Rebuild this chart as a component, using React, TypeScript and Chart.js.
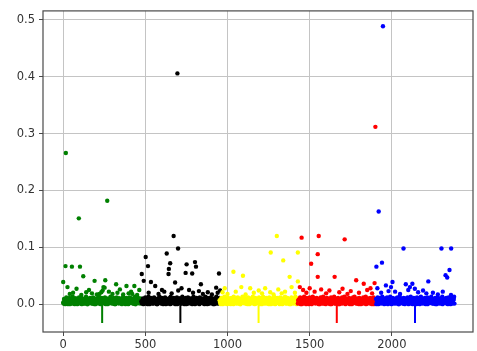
import { useEffect, useRef } from "react";
import { Chart, registerables } from "chart.js";

Chart.register(...registerables);

// ---- data ----
const groupColors = ["#008000", "#000000", "#ffff00", "#ff0000", "#0000ff"];
const groupStarts = [0, 476, 952, 1428, 1904];
const groupWidth = 475;
const stemCenters = [237, 713, 1189, 1665, 2141];
const stemBottom = -0.033;
const xTickValues = [0, 500, 1000, 1500, 2000];
const yTickValues = [0, 0.1, 0.2, 0.3, 0.4, 0.5];

// dense band values near zero (thousandths), one per sampled index
const greenBandMilli = [3,9,1,6,12,4,0,8,11,2,7,5,13,1,9,3,10,6,0,8,12,2,5,11,4,7,1,10,3,13,6,0,9,2,11,5,8,1,12,4,7,0,10,3,6,13,2,9,5,11,1,8,4,12,0,7,3,10,6,2,13,9,1,5,11,8,0,4,12,7,3,10,2,6,9,1,13,5,8,0,11,4,7,2,12,6,10,3,9,1,5,13,0,8,4,11,2,7,10,3];
const blackBandMilli = [5,1,10,7,2,12,4,9,0,13,6,3,11,8,1,5,12,2,9,6,0,10,4,13,7,3,11,1,8,5,12,0,9,2,6,10,4,13,1,7,3,11,8,0,5,12,2,9,6,10,1,4,13,7,3,8,11,0,5,12,2,9,6,1,10,4,13,7,0,3,11,8,5,1,12,2,9,6,10,4,0,13,7,3,11,1,8,5,12,2,9,0,6,10,4,13,3,7,1,11];
const yellowBandMilli = [7,2,11,4,0,9,13,5,1,8,12,3,10,6,0,11,2,7,13,4,9,1,6,12,3,10,0,8,5,13,2,11,7,1,9,4,12,6,0,10,3,8,13,2,5,11,1,9,7,4,12,0,6,10,3,13,8,1,5,11,2,9,4,12,7,0,10,6,3,13,1,8,5,11,2,9,0,12,4,7,10,3,6,13,1,8,11,5,2,9,0,12,4,7,10,3,13,6,1,8];
const redBandMilli = [1,8,4,12,6,0,10,3,13,7,2,11,5,9,0,12,4,8,1,13,6,10,3,7,11,2,9,5,0,12,8,4,13,1,6,10,3,11,7,2,9,0,12,5,8,4,13,1,10,6,3,11,7,0,9,2,12,5,8,13,4,1,10,6,3,11,0,7,9,2,12,5,13,8,1,4,10,6,11,3,0,9,7,12,2,5,13,8,1,10,4,6,11,3,0,9,12,7,2,5];
const blueBandMilli = [9,3,12,0,6,11,2,8,13,5,1,10,4,7,12,0,9,3,13,6,2,11,8,1,5,10,4,12,7,0,13,3,9,6,1,11,8,2,10,5,12,0,7,4,13,9,1,6,11,3,8,0,12,5,10,2,7,13,4,1,9,6,11,0,3,12,8,5,10,2,13,7,1,4,9,11,6,0,12,3,8,5,10,1,13,7,2,9,4,11,6,0,12,3,8,5,10,1,7,13];

// second interleaved row of band values (thousandths)
const greenBandMilliB = [1,5,0,3,7,2,9,4,0,6,1,8,3,5,0,10,2,6,4,1,7,3,9,0,5,2,8,1,4,6,0,9,3,7,2,5,1,10,4,0,6,3,8,2,5,1,7,0,9,4,2,6,3,10,1,5,0,8,4,2,7,3,6,1,9,0,5,2,8,4,1,10,3,6,0,7,2,5,9,1,4,8,0,3,6,2,10,5,1,7,4,0,9,3,6,2,8,1,5,3];
const blackBandMilliB = [2,6,0,4,9,1,7,3,10,5,0,8,2,6,4,1,9,3,7,0,5,2,10,6,1,8,4,0,7,3,9,2,5,1,6,10,0,4,8,3,2,7,1,9,5,0,6,3,10,4,1,8,2,7,0,5,9,3,6,1,4,10,2,8,0,5,3,7,1,9,4,2,6,0,10,3,8,5,1,7,2,4,9,0,6,3,1,8,5,10,2,7,0,4,9,1,6,3,5,2];
const yellowBandMilliB = [4,0,8,2,6,1,10,3,7,0,5,9,2,4,1,8,6,0,3,10,5,2,7,1,9,4,0,6,3,8,2,5,10,1,7,0,4,9,3,6,2,8,1,5,0,10,4,7,2,3,9,1,6,0,8,5,2,4,10,1,7,3,0,9,6,2,5,1,8,4,0,10,3,7,2,6,1,9,5,0,4,8,2,3,10,1,6,7,0,5,9,2,4,1,8,3,6,0,10,2];
const redBandMilliB = [6,2,9,0,4,7,1,10,3,5,0,8,2,6,1,9,4,0,7,3,10,5,1,8,2,6,0,4,9,3,7,1,5,10,2,0,8,4,6,1,3,9,0,7,2,5,10,1,4,8,3,0,6,9,2,5,1,7,4,10,0,3,8,2,6,1,9,5,0,4,7,3,10,2,8,1,6,0,5,9,3,4,1,7,2,10,0,6,8,3,5,1,9,4,2,7,0,6,3,8];
const blueBandMilliB = [0,4,7,2,10,5,1,8,3,6,0,9,4,2,7,1,5,10,3,0,8,6,2,4,9,1,7,3,0,5,10,2,6,8,1,4,0,9,3,7,5,2,10,1,6,4,0,8,3,9,2,5,7,1,10,0,4,6,3,8,2,9,1,5,7,0,10,4,3,6,2,8,1,9,5,0,7,3,4,10,1,6,2,8,0,5,9,3,7,1,4,6,2,10,0,8,5,3,9,1];

// individual points above the band: [index, value]
const greenPeaks: [number, number][] = [
  [16,0.266],[95,0.151],[268,0.182],[14,0.067],[53,0.066],[102,0.066],[0,0.039],[122,0.049],
  [191,0.041],[256,0.042],[322,0.035],[385,0.032],[433,0.032],[26,0.030],[81,0.027],[157,0.025],
  [252,0.029],[278,0.022],[345,0.026],[413,0.022],[463,0.025],[40,0.018],[110,0.016],[175,0.019],
  [205,0.017],[232,0.021],[300,0.018],[365,0.017],[398,0.019],[450,0.016],[240,0.024],[245,0.030],
  [60,0.020],[140,0.021],[220,0.018],[330,0.020],[420,0.018]
];
const blackPeaks: [number, number][] = [
  [695,0.406],[672,0.120],[699,0.098],[630,0.089],[502,0.083],[516,0.067],[651,0.072],[643,0.062],
  [641,0.053],[751,0.070],[802,0.074],[808,0.066],[745,0.055],[785,0.054],[948,0.054],[478,0.053],
  [490,0.041],[534,0.039],[560,0.032],[681,0.038],[838,0.035],[826,0.023],[766,0.025],[601,0.025],
  [931,0.029],[520,0.020],[580,0.018],[615,0.022],[660,0.019],[700,0.024],[720,0.028],[790,0.020],
  [850,0.018],[880,0.021],[905,0.017],[940,0.020],[955,0.024]
];
const yellowPeaks: [number, number][] = [
  [1300,0.120],[1263,0.091],[1428,0.091],[1339,0.077],[1036,0.057],[1094,0.050],[1378,0.048],
  [1428,0.040],[983,0.028],[1084,0.030],[1138,0.028],[1229,0.028],[1309,0.026],[1390,0.030],
  [1000,0.018],[1050,0.022],[1110,0.017],[1160,0.020],[1190,0.024],[1210,0.019],[1260,0.021],
  [1280,0.017],[1330,0.019],[1350,0.022],[1410,0.020],[970,0.021]
];
const redPeaks: [number, number][] = [
  [1900,0.312],[1451,0.117],[1555,0.120],[1713,0.114],[1549,0.088],[1509,0.071],[1549,0.048],
  [1652,0.048],[1440,0.030],[1783,0.042],[1829,0.036],[1895,0.037],[1460,0.025],[1480,0.020],
  [1500,0.028],[1530,0.022],[1570,0.026],[1600,0.019],[1620,0.024],[1680,0.021],[1700,0.027],
  [1730,0.018],[1750,0.023],[1800,0.020],[1850,0.025],[1870,0.028],[1880,0.019]
];
const bluePeaks: [number, number][] = [
  [1946,0.489],[1920,0.163],[2071,0.098],[2302,0.098],[2361,0.098],[1940,0.073],[1906,0.066],
  [2351,0.060],[2327,0.051],[2337,0.047],[2004,0.039],[2222,0.040],[2125,0.036],[2085,0.035],
  [1964,0.033],[1980,0.023],[1912,0.028],[1935,0.020],[1995,0.030],[2020,0.022],[2050,0.018],
  [2100,0.025],[2110,0.030],[2140,0.027],[2160,0.021],[2190,0.024],[2210,0.019],[2250,0.020],
  [2280,0.017],[2310,0.022],[2360,0.016]
];

const bands = [greenBandMilli, blackBandMilli, yellowBandMilli, redBandMilli, blueBandMilli];
const bandsB = [greenBandMilliB, blackBandMilliB, yellowBandMilliB, redBandMilliB, blueBandMilliB];
const peaks = [greenPeaks, blackPeaks, yellowPeaks, redPeaks, bluePeaks];

function groupPoints(g: number) {
  const band = bands[g];
  const bandB = bandsB[g];
  const step = groupWidth / (band.length - 1);
  const pts = band.map((m, i) => ({
    x: Math.round(groupStarts[g] + i * step),
    y: m / 1000,
  }));
  const ptsB = bandB.map((m, i) => ({
    x: Math.round(groupStarts[g] + (i + 0.5) * step),
    y: m / 1000,
  }));
  return pts.concat(ptsB, peaks[g].map(([x, y]) => ({ x, y })));
}

const framePlugin = {
  id: "frame",
  afterDatasetsDraw(chart: any) {
    const { ctx, chartArea: a } = chart;
    ctx.save();
    ctx.strokeStyle = "#4a4a4a";
    ctx.lineWidth = 1.2;
    ctx.strokeRect(a.left, a.top, a.right - a.left, a.bottom - a.top);
    ctx.restore();
  },
};

export default function App() {
  const ref = useRef<HTMLCanvasElement | null>(null);
  useEffect(() => {
    if (!ref.current) return;
    const datasets: any[] = [];
    for (let g = 0; g < 5; g++) {
      datasets.push({
        type: "scatter",
        data: groupPoints(g),
        backgroundColor: groupColors[g],
        borderWidth: 0,
        pointRadius: 2.2,
        order: 10 - g,
      });
    }
    for (let g = 0; g < 5; g++) {
      datasets.push({
        type: "scatter",
        data: [
          { x: stemCenters[g], y: 0 },
          { x: stemCenters[g], y: stemBottom },
        ],
        showLine: true,
        borderColor: groupColors[g],
        borderWidth: 2,
        pointRadius: 0,
        order: 20,
      });
    }
    const font = { family: "'DejaVu Sans', sans-serif", size: 11.5 };
    const chart = new Chart(ref.current, {
      type: "scatter",
      data: { datasets },
      plugins: [framePlugin],
      options: {
        animation: false,
        responsive: false,
        devicePixelRatio: 1,
        layout: { padding: { top: 10, right: 1, left: 0, bottom: 0 } },
        plugins: { legend: { display: false }, tooltip: { enabled: false } },
        scales: {
          x: {
            type: "linear",
            min: -123,
            max: 2494,
            afterBuildTicks: (s: any) => {
              s.ticks = xTickValues.map((v) => ({ value: v }));
            },
            afterFit: (s: any) => {
              s.height = 19;
            },
            grid: { color: "#c4c4c4", lineWidth: 1, tickLength: 4, tickColor: "#4a4a4a" },
            border: { display: false },
            ticks: { color: "#333", font, padding: 2, maxRotation: 0, callback: (v: any) => String(v) },
          },
          y: {
            type: "linear",
            min: -0.049,
            max: 0.516,
            afterBuildTicks: (s: any) => {
              s.ticks = yTickValues.map((v) => ({ value: v }));
            },
            afterFit: (s: any) => {
              s.width = 43;
            },
            grid: { color: "#c4c4c4", lineWidth: 1, tickLength: 4, tickColor: "#4a4a4a" },
            border: { display: false },
            ticks: { color: "#333", font, padding: 4, callback: (v: any) => Number(v).toFixed(1) },
          },
        },
      },
    });
    return () => chart.destroy();
  }, []);
  return (
    <div style={{ position: "absolute", left: 0, top: 0, width: 477, height: 351 }}>
      <canvas ref={ref} width={477} height={351} />
    </div>
  );
}
